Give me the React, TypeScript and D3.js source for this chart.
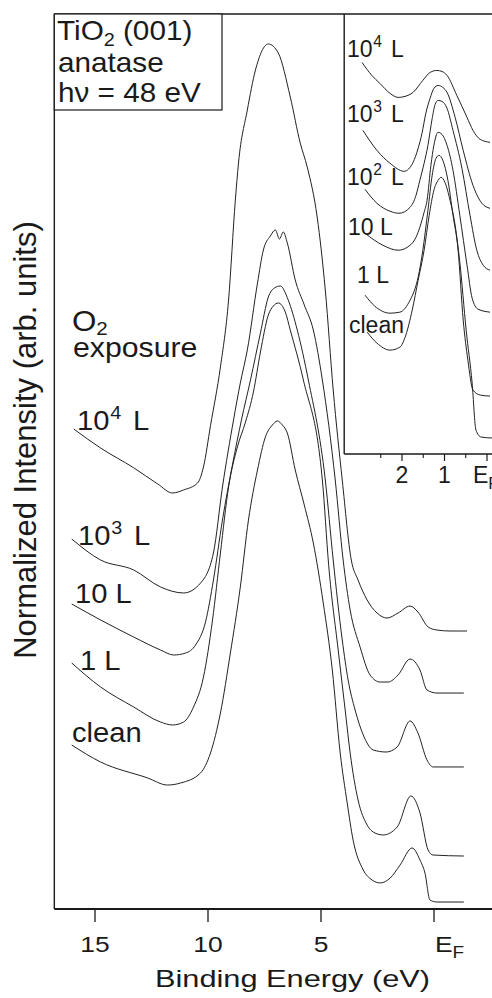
import React from "react";
import * as d3 from "d3";

type Pt = [number, number];

// ---------- Main panel: [binding energy (eV), normalized intensity (arb. units)] ----------
const main1e4: Pt[] = [
  [15.94, 53.63], [14.75, 51.5], [13.29, 49.3], [12.23, 47.5], [11.57, 46.48], [11.08, 46.82],
  [10.46, 47.6], [10.2, 49.39], [9.89, 54.0], [9.45, 60.56], [9.09, 68.04], [8.79, 79.22],
  [8.65, 83.35], [8.26, 89.27], [7.9, 93.74], [7.33, 96.65], [6.89, 95.64], [6.36, 90.73],
  [5.92, 85.59], [5.61, 82.91], [5.17, 77.32], [4.81, 69.16], [4.46, 57.99], [4.06, 47.93],
  [3.66, 38.99], [3.36, 36.76], [2.96, 34.53], [2.52, 33.07], [2.08, 32.51], [1.59, 33.07],
  [1.06, 33.85], [0.71, 33.18], [0.26, 31.51], [-0.13, 31.17], [-0.71, 31.06], [-1.46, 31.06],
];
const main1e3: Pt[] = [
  [16.03, 41.34], [14.75, 38.99], [13.29, 37.88], [12.1, 35.98], [11.08, 35.31], [10.33, 36.42],
  [9.76, 39.78], [9.36, 47.15], [8.87, 54.64], [8.57, 58.77], [8.26, 62.46], [7.81, 69.94],
  [7.55, 73.63], [7.24, 75.2], [7.02, 75.87], [6.84, 74.86], [6.67, 75.64], [6.49, 74.41],
  [6.14, 70.28], [5.74, 67.49], [5.34, 64.69], [4.94, 59.11], [4.37, 47.93], [4.02, 38.99],
  [3.71, 33.41], [3.27, 29.27], [2.83, 26.15], [2.38, 25.36], [2.03, 25.36], [1.59, 26.15],
  [1.06, 27.93], [0.62, 26.7], [0.31, 24.47], [-0.13, 24.13], [-1.32, 24.13],
];
const main10: Pt[] = [
  [16.03, 34.08], [14.75, 32.29], [13.29, 30.39], [12.1, 28.94], [11.52, 28.38], [10.99, 28.6],
  [10.55, 29.5], [10.11, 32.07], [9.76, 36.76], [9.36, 43.46], [8.92, 49.61], [8.52, 54.64],
  [8.12, 59.11], [7.68, 64.36], [7.33, 68.38], [7.06, 69.39], [6.8, 69.61], [6.45, 68.04],
  [6.05, 64.69], [5.56, 59.11], [4.81, 47.93], [4.46, 38.99], [4.06, 30.06], [3.8, 25.59],
  [3.49, 22.23], [3.13, 19.44], [2.69, 17.77], [2.12, 17.54], [1.63, 18.1], [1.06, 21.01],
  [0.71, 19.66], [0.31, 16.65], [0.04, 15.87], [-1.32, 15.87],
];
const main1: Pt[] = [
  [16.03, 27.49], [14.75, 24.8], [13.29, 22.57], [12.1, 20.89], [11.57, 20.56], [11.08, 20.89],
  [10.64, 22.57], [10.2, 25.92], [9.8, 32.29], [9.45, 39.78], [9.09, 47.15], [8.7, 51.62],
  [8.34, 54.41], [7.99, 57.77], [7.68, 62.23], [7.33, 66.37], [7.11, 67.37], [6.89, 67.71],
  [6.58, 66.7], [6.36, 64.69], [5.78, 59.11], [4.94, 47.93], [4.66, 38.4], [4.24, 28.94],
  [3.93, 22.23], [3.71, 17.43], [3.36, 12.18], [2.96, 9.39], [2.61, 8.49], [2.25, 8.27],
  [1.63, 9.16], [1.02, 12.63], [0.62, 10.73], [0.26, 6.59], [0.04, 6.03], [-1.32, 5.92],
];
const mainClean: Pt[] = [
  [16.03, 18.32], [14.75, 16.42], [12.67, 14.64], [11.79, 13.85], [11.21, 14.08], [10.33, 15.2],
  [9.89, 17.43], [9.45, 21.9], [9.01, 28.6], [8.57, 35.98], [8.21, 43.46], [7.81, 49.05],
  [7.46, 52.74], [7.15, 54.08], [6.93, 54.53], [6.71, 54.08], [6.49, 53.18], [6.14, 49.05],
  [5.74, 45.14], [5.34, 40.89], [4.9, 34.19], [4.5, 26.7], [4.15, 17.43], [3.84, 11.84],
  [3.58, 7.71], [3.13, 4.36], [2.74, 3.24], [2.38, 2.91], [1.94, 3.46], [1.5, 4.92],
  [0.97, 6.82], [0.62, 5.47], [0.4, 4.02], [0.18, 1.01], [-0.13, 0.78], [-1.32, 0.78],
];

// ---------- Inset: [binding energy (eV), intensity (arb. units)] ----------
const inset1e4: Pt[] = [
  [2.94, 88.89], [2.71, 85.94], [2.52, 84.13], [2.28, 81.86], [2.09, 80.95], [1.93, 81.18],
  [1.74, 82.09], [1.51, 84.81], [1.34, 86.62], [1.18, 87.07], [1.06, 86.85], [0.94, 85.94],
  [0.71, 81.41], [0.47, 76.42], [0.33, 73.47], [0.16, 71.43], [-0.07, 70.75],
];
const inset1e3: Pt[] = [
  [2.92, 73.47], [2.59, 68.93], [2.28, 65.99], [1.95, 64.17], [1.74, 66.21], [1.62, 69.39],
  [1.53, 72.79], [1.44, 77.32], [1.34, 80.73], [1.25, 82.99], [1.15, 83.67], [1.04, 83.22],
  [0.94, 82.09], [0.75, 76.42], [0.56, 68.93], [0.33, 61.0], [0.12, 56.92], [-0.07, 55.78],
];
const inset1e2: Pt[] = [
  [2.87, 60.09], [2.59, 56.92], [2.28, 55.1], [2.07, 54.65], [1.81, 56.01], [1.67, 58.73],
  [1.58, 62.13], [1.48, 65.99], [1.39, 70.07], [1.29, 76.19], [1.22, 79.37], [1.15, 80.27],
  [1.06, 80.05], [0.94, 78.46], [0.8, 73.47], [0.59, 64.85], [0.4, 54.2], [0.24, 46.26],
  [0.09, 42.86], [-0.07, 41.72],
];
const inset10: Pt[] = [
  [2.87, 50.11], [2.45, 47.39], [2.09, 46.26], [1.81, 47.39], [1.67, 49.21], [1.58, 51.47],
  [1.48, 54.88], [1.41, 57.6], [1.32, 65.53], [1.25, 70.07], [1.15, 73.02], [1.06, 72.56],
  [0.94, 70.07], [0.8, 64.4], [0.64, 54.2], [0.47, 42.86], [0.35, 35.37], [0.21, 32.88],
  [-0.07, 32.2],
];
const inset1: Pt[] = [
  [2.87, 36.05], [2.64, 33.56], [2.28, 31.97], [2.05, 32.2], [1.81, 34.92], [1.69, 37.64],
  [1.62, 40.14], [1.51, 46.26], [1.39, 55.33], [1.29, 63.27], [1.2, 67.12], [1.13, 67.8],
  [1.04, 66.67], [0.92, 62.13], [0.8, 54.2], [0.68, 46.26], [0.56, 30.39], [0.45, 21.32],
  [0.33, 14.51], [0.16, 13.38], [-0.07, 13.15],
];
const insetClean: Pt[] = [
  [2.82, 27.66], [2.59, 25.17], [2.28, 23.58], [2.05, 24.26], [1.91, 26.98], [1.76, 32.65],
  [1.62, 39.46], [1.48, 46.26], [1.36, 54.2], [1.25, 59.86], [1.15, 62.13], [1.08, 62.81],
  [0.99, 61.68], [0.87, 57.6], [0.75, 51.93], [0.64, 43.54], [0.49, 28.12], [0.35, 16.1],
  [0.26, 5.44], [0.14, 3.85], [-0.12, 3.63],
];

// ---------- Ticks and labels ----------
const mainTickValues = [15, 10, 5, 0];
const mainTickLabels = ["15", "10", "5", "E_F"];
const insetMajorTicks = [2, 1, 0];
const insetMinorTicks = [2.5, 1.5, 0.5];
const insetTickLabels = ["2", "1", "E_F"];

const mainCurves = [main1e4, main1e3, main10, main1, mainClean];
const insetCurves = [inset1e4, inset1e3, inset1e2, inset10, inset1, insetClean];

// label text: [base, superscript, rest]
const mainLabelText: [string, string, string][] = [
  ["10", "4", "L"], ["10", "3", "L"], ["10 L", "", ""], ["1 L", "", ""], ["clean", "", ""],
];
const insetLabelText: [string, string, string][] = [
  ["10", "4", "L"], ["10", "3", "L"], ["10", "2", "L"], ["10 L", "", ""], ["1 L", "", ""], ["clean", "", ""],
];
const boxLines = ["TiO", "anatase", "hν = 48 eV"];

const FONT = "'Liberation Sans', Arial, Helvetica, sans-serif";
const INK = "#1a1a1a";

// layout (pixels)
const mainLabelPos: Pt[] = [[77, 430], [78, 545], [75, 603], [80, 670], [72, 742]];
const insetLabelPos: Pt[] = [[347, 57], [347, 122], [347, 185], [348, 235], [357, 283], [349, 333]];

function Label({ x, y, fs, sx, t }: { x: number; y: number; fs: number; sx: number; t: [string, string, string] }) {
  const [base, sup, rest] = t;
  return (
    <text transform={`translate(${x},${y}) scale(${sx},1)`} fontSize={fs} fill={INK}>
      {base}
      {sup ? (
        <tspan fontSize={fs * 0.68} dy={-fs * 0.42} dx={fs * 0.03}>{sup}</tspan>
      ) : null}
      {rest ? (
        <tspan fontSize={fs} dy={fs * 0.42} dx={fs * 0.12}>{" " + rest}</tspan>
      ) : null}
    </text>
  );
}

function EF({ x, y, fs, sx, anchor }: { x: number; y: number; fs: number; sx: number; anchor: string }) {
  return (
    <text transform={`translate(${x},${y}) scale(${sx},1)`} fontSize={fs} fill={INK} textAnchor={anchor}>
      E<tspan fontSize={fs * 0.72} dy={fs * 0.28}>F</tspan>
    </text>
  );
}

export default function App() {
  const W = 492;
  const H = 998;

  const mx = d3.scaleLinear().domain([15, 0]).range([95, 434]);
  const my = d3.scaleLinear().domain([0, 100]).range([909, 14]);
  const ix = d3.scaleLinear().domain([2, 0]).range([402, 487]);
  const iy = d3.scaleLinear().domain([0, 100]).range([454, 13.5]);

  const mainLine = d3
    .line<Pt>()
    .x((d) => mx(d[0]))
    .y((d) => my(d[1]))
    .curve(d3.curveMonotoneX);
  const insetLine = d3
    .line<Pt>()
    .x((d) => ix(d[0]))
    .y((d) => iy(d[1]))
    .curve(d3.curveMonotoneX);

  const left = mx(16.8);
  const top = my(100);
  const bottom = my(0);
  const iLeft = ix(3.36);
  const iBottom = iy(0);

  return (
    <svg
      width={W}
      height={H}
      viewBox={`0 0 ${W} ${H}`}
      style={{ position: "absolute", left: 0, top: 0, background: "#fff" }}
      fontFamily={FONT}
    >
      <rect x={0} y={0} width={W} height={H} fill="#fff" />

      {/* main frame */}
      <line x1={left} y1={top} x2={W} y2={top} stroke={INK} strokeWidth={1.4} />
      <line x1={left} y1={top} x2={left} y2={bottom} stroke={INK} strokeWidth={1.4} />
      <line x1={left} y1={bottom} x2={W} y2={bottom} stroke={INK} strokeWidth={1.8} />

      {/* main ticks */}
      {mainTickValues.map((v) => (
        <line key={"mt" + v} x1={mx(v)} x2={mx(v)} y1={bottom} y2={bottom + 13} stroke={INK} strokeWidth={1.3} />
      ))}
      {mainTickValues.map((v, i) =>
        mainTickLabels[i] === "E_F" ? (
          <EF key={"ml" + v} x={mx(v) + 1} y={952} fs={22} sx={1.2} anchor="start" />
        ) : (
          <text
            key={"ml" + v}
            transform={`translate(${mx(v)},952) scale(1.2,1)`}
            fontSize={22}
            textAnchor="middle"
            fill={INK}
          >
            {mainTickLabels[i]}
          </text>
        )
      )}

      {/* axis titles */}
      <text x={292.5} y={987} fontSize={24} textAnchor="middle" fill={INK} textLength={275} lengthAdjust="spacingAndGlyphs">
        Binding Energy (eV)
      </text>
      <text transform="translate(36,440) rotate(-90)" fontSize={31} textAnchor="middle" fill={INK}>
        Normalized Intensity (arb. units)
      </text>

      {/* main curves */}
      {mainCurves.map((c, i) => (
        <path key={"mc" + i} d={mainLine(c) || ""} fill="none" stroke="#222" strokeWidth={1} />
      ))}

      {/* main labels */}
      <text transform="translate(72,331) scale(1.08,1)" fontSize={29} fill={INK}>
        O<tspan fontSize={19} dy={4}>2</tspan>
      </text>
      <text transform="translate(73,357) scale(1.08,1)" fontSize={28} fill={INK}>
        exposure
      </text>
      {mainLabelText.map((t, i) => (
        <Label key={"lab" + i} x={mainLabelPos[i][0]} y={mainLabelPos[i][1]} fs={27} sx={1.08} t={t} />
      ))}

      {/* info box */}
      <rect x={left} y={top} width={222 - left} height={110 - top} fill="#fff" stroke={INK} strokeWidth={1.2} />
      <text transform="translate(57,40) scale(1.1,1)" fontSize={27} fill={INK}>
        {boxLines[0]}
        <tspan fontSize={18} dy={6}>2</tspan>
        <tspan dy={-6}> (001)</tspan>
      </text>
      <text transform="translate(58,72) scale(1.1,1)" fontSize={27} fill={INK}>
        {boxLines[1]}
      </text>
      <text transform="translate(58,102) scale(1.1,1)" fontSize={27} fill={INK}>
        {boxLines[2]}
      </text>

      {/* inset frame */}
      <line x1={iLeft} y1={top} x2={iLeft} y2={iBottom} stroke={INK} strokeWidth={1.4} />
      <line x1={iLeft} y1={iBottom} x2={W} y2={iBottom} stroke={INK} strokeWidth={1.6} />
      {insetMajorTicks.map((v) => (
        <line key={"it" + v} x1={ix(v)} x2={ix(v)} y1={iBottom} y2={iBottom + 7} stroke={INK} strokeWidth={1.2} />
      ))}
      {insetMinorTicks.map((v) => (
        <line key={"im" + v} x1={ix(v)} x2={ix(v)} y1={iBottom} y2={iBottom + 4} stroke={INK} strokeWidth={1.1} />
      ))}
      {insetMajorTicks.map((v, i) =>
        insetTickLabels[i] === "E_F" ? (
          <EF key={"il" + v} x={ix(v) - 14} y={483} fs={23} sx={1} anchor="start" />
        ) : (
          <text key={"il" + v} x={ix(v)} y={483} fontSize={23} textAnchor="middle" fill={INK}>
            {insetTickLabels[i]}
          </text>
        )
      )}

      {/* inset curves */}
      {insetCurves.map((c, i) => (
        <path key={"ic" + i} d={insetLine(c) || ""} fill="none" stroke="#222" strokeWidth={1} />
      ))}

      {/* inset labels */}
      {insetLabelText.map((t, i) => (
        <Label key={"ilab" + i} x={insetLabelPos[i][0]} y={insetLabelPos[i][1]} fs={23} sx={1} t={t} />
      ))}
    </svg>
  );
}
